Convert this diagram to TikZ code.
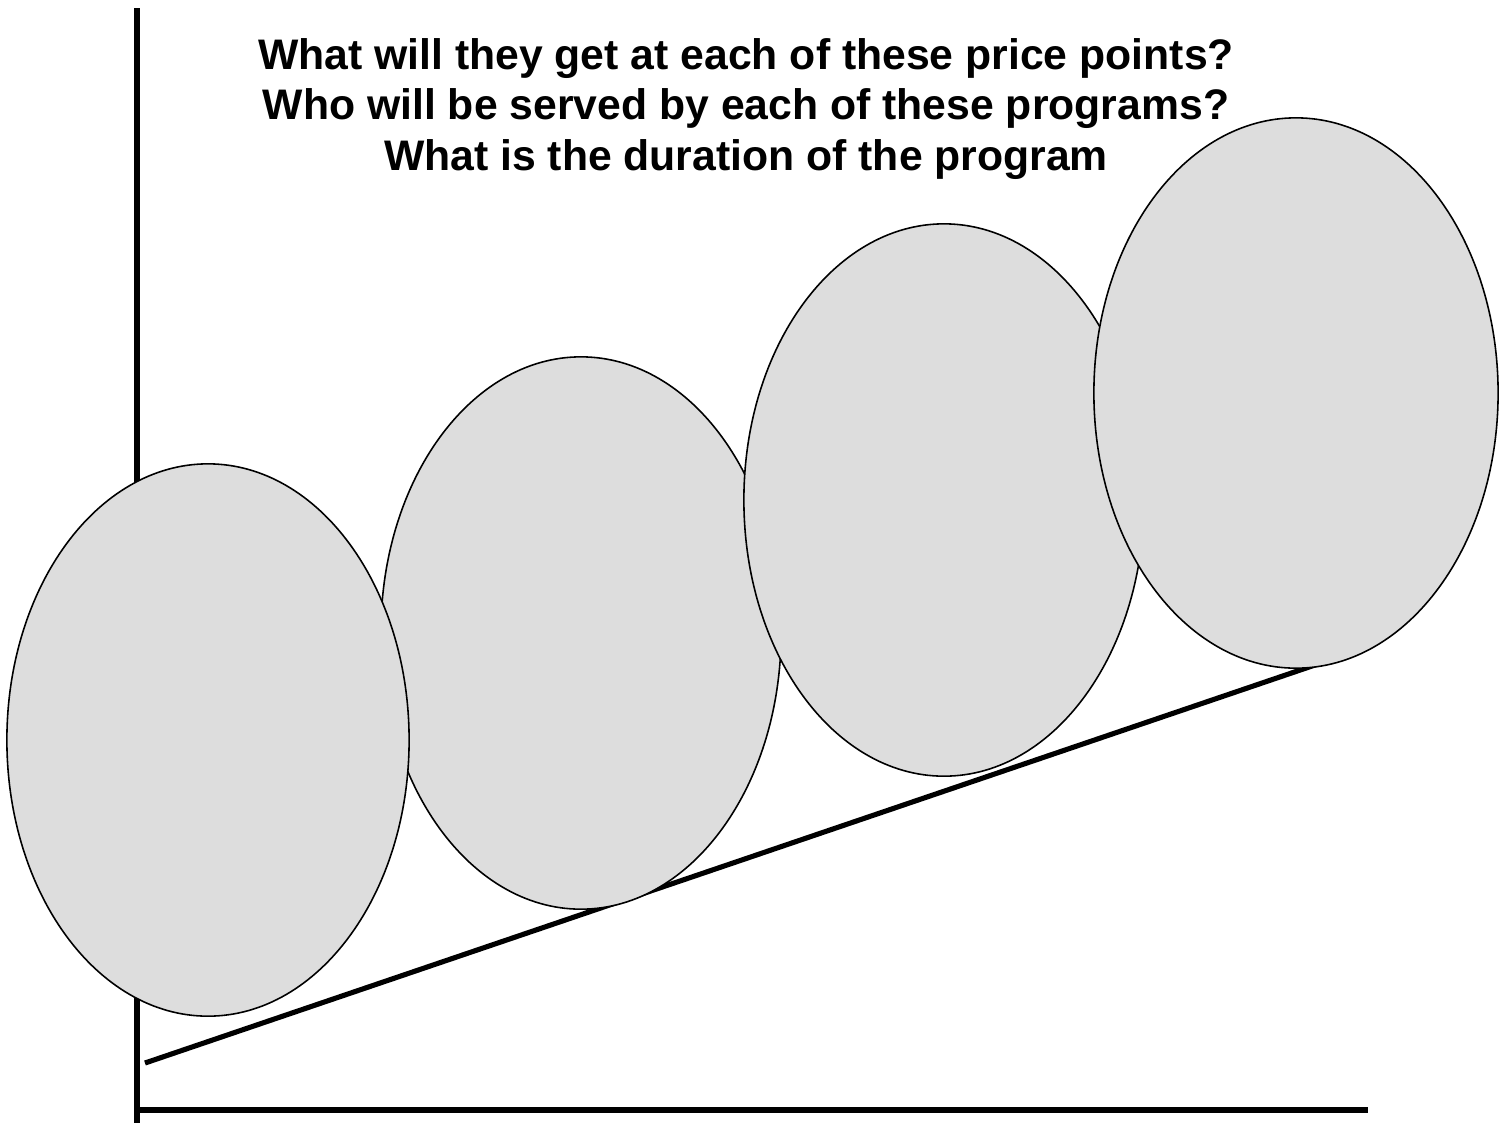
\documentclass[tikz,border=0pt]{standalone}
\usepackage{fontspec}
\setmainfont{Liberation Sans}
\usetikzlibrary{shapes.geometric}
\definecolor{egray}{RGB}{221,221,221}
\tikzset{
  % grey price-point ellipse
  PE/.style={ellipse,draw=black,fill=egray,line width=0.45pt,
             minimum width=#1,minimum height=5.52cm,inner sep=0pt},
  PE/.default=4.02cm,
  % thick axis and trend lines
  Ax/.style={line width=1.7pt,color=black},
}
\begin{document}
\begin{tikzpicture}[x=0.01cm,y=-0.01cm]
\useasboundingbox (0,0) rectangle (1505,1123);
% ── axes ─────────────────────────────────
\coordinate (top)    at (137,8);
\coordinate (origin) at (137,1110);
\coordinate (xend)   at (1368,1110);
\coordinate (lo)     at (145,1063);
\coordinate (hi)     at (1315,665);
\draw[Ax] (top) -- (137,1123);
\draw[Ax] (origin) -- (xend);
\draw[Ax,line width=1.45pt] (lo) -- (hi);
% ── price points ─────────────────────────
\node[PE=4.0cm]  at (581,633) (p2) {};
\node[PE]        at (208,740) (p1) {};
\node[PE=4.0cm]  at (944,500) (p3) {};
\node[PE=4.04cm,minimum height=5.5cm] at (1296,393) (p4) {};
% ── questions ────────────────────────────
\node[font=\fontsize{12.15}{14.3}\selectfont\bfseries,align=center]
at (746,109) (q)
{What will they get at each of these price points?\\
 Who will be served by each of these programs?\\
 What is the duration of the program};
\end{tikzpicture}
\end{document}
